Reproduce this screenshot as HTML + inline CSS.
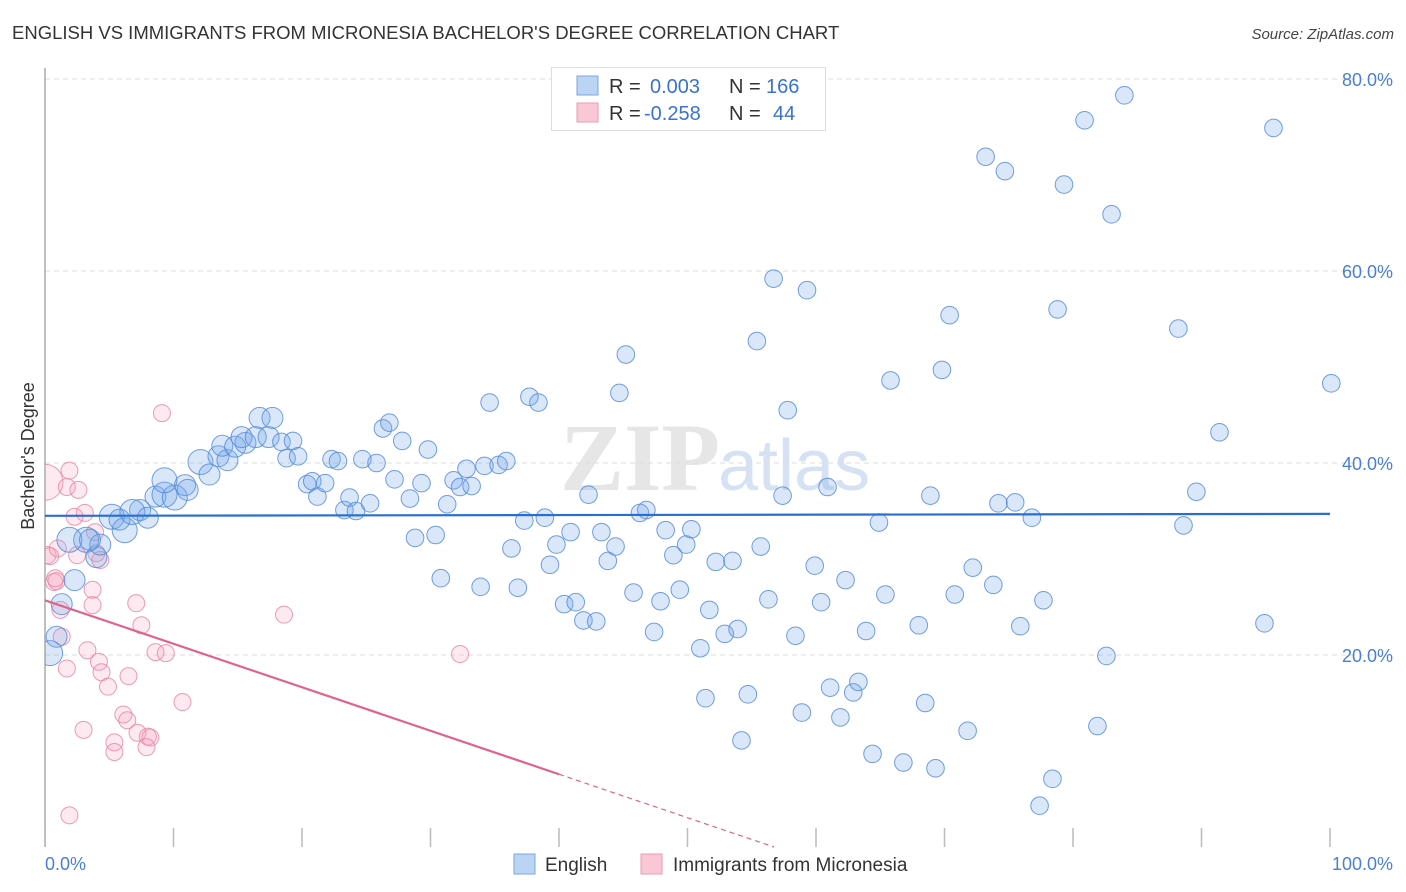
<!DOCTYPE html>
<html><head><meta charset="utf-8"><style>
body{margin:0;background:#fff;width:1406px;height:892px;overflow:hidden;font-family:"Liberation Sans",sans-serif}
svg{display:block}
</style></head><body>
<svg id="chart" width="1406" height="892">
<defs><clipPath id="plotClip"><rect x="45" y="60" width="1361" height="790"/></clipPath></defs>
<text x="12" y="39" font-size="18.5" fill="#333">ENGLISH VS IMMIGRANTS FROM MICRONESIA BACHELOR'S DEGREE CORRELATION CHART</text>
<text x="1394" y="39" font-size="15" fill="#444" font-style="italic" text-anchor="end">Source: ZipAtlas.com</text>
<text x="720" y="490" font-size="96" fill="#e6e6e6" text-anchor="end" font-family="Liberation Serif,serif" font-weight="bold">ZIP</text>
<text x="718" y="490" font-size="72" fill="#d6e2f3">atlas</text>
<g id="grid"></g>
<g id="axes"></g>
<g id="pinkPts" clip-path="url(#plotClip)"></g>
<g id="bluePts" clip-path="url(#plotClip)"></g>
<g id="lines"></g>
<text transform="translate(34,456) rotate(-90)" font-size="18" fill="#333" text-anchor="middle">Bachelor's Degree</text>
<text x="45" y="870" font-size="18" fill="#4a7fd4">0.0%</text>
<text x="1393" y="870" font-size="18" fill="#4a7fd4" text-anchor="end">100.0%</text>
<g>
<rect x="551.5" y="67.5" width="274" height="63" fill="#fff" stroke="#ddd"/>
<rect x="577" y="76" width="21" height="19" fill="#bcd4f4" stroke="#7aa6e3"/>
<rect x="577" y="103" width="21" height="19" fill="#fac7d6" stroke="#ee9ab3"/>
<text x="609" y="93" font-size="20" fill="#333">R = <tspan fill="#3a72cf" x="650">0.003</tspan><tspan fill="#333" x="729">N = </tspan><tspan fill="#3a72cf" x="766">166</tspan></text>
<text x="609" y="120" font-size="20" fill="#333">R = <tspan fill="#3a72cf" x="644">-0.258</tspan><tspan fill="#333" x="729">N = </tspan><tspan fill="#3a72cf" x="773">44</tspan></text>
</g>
<g>
<rect x="514" y="854" width="21" height="20" fill="#bcd4f4" stroke="#7aa6e3"/>
<text x="545" y="871" font-size="19" fill="#333">English</text>
<rect x="641" y="854" width="21" height="20" fill="#fac7d6" stroke="#ee9ab3"/>
<text x="673" y="871" font-size="19" fill="#333">Immigrants from Micronesia</text>
</g>
</svg>
<script>
const yTicks=[20,40,60,80];
const yTickLabels=["20.0%","40.0%","60.0%","80.0%"];
const xTicks=[0,10,20,30,40,50,60,70,80,90,100];
const blueX=[0.4,0.9,1.3,2.3,4.0,3.2,4.3,1.9,3.5,5.2,6.2,5.8,7.4,6.8,8.0,8.6,9.3,10.1,10.9,9.3,11.1,12.1,12.8,13.5,14.2,13.8,14.8,15.6,15.3,16.4,17.4,16.7,17.7,18.4,19.3,18.8,19.7,20.4,20.8,21.2,21.8,22.3,22.8,23.3,23.7,24.2,24.7,25.3,25.8,26.3,26.8,27.2,27.8,28.4,28.8,29.3,29.8,30.4,30.8,31.3,31.8,32.3,32.8,33.2,33.9,34.2,34.6,35.3,35.9,36.3,36.8,37.3,37.7,38.4,38.9,39.3,39.8,40.4,40.9,41.3,41.9,42.3,42.9,43.3,43.8,44.4,44.7,45.2,45.8,46.3,46.8,47.4,47.9,48.3,48.9,49.4,49.9,50.3,51.0,51.4,51.7,52.2,52.9,53.5,53.9,54.2,54.7,55.4,55.7,56.3,56.7,57.4,57.8,58.4,58.9,59.3,59.9,60.4,60.9,61.1,61.9,62.3,62.9,63.3,63.9,64.4,64.9,65.4,65.8,66.8,68.0,68.5,68.9,69.3,69.8,70.4,70.8,71.8,72.2,73.2,73.8,74.2,74.7,75.5,75.9,76.8,77.4,77.7,78.4,78.8,79.3,80.9,81.9,82.6,83.0,84.0,88.2,88.6,89.6,91.4,94.9,95.6,100.1];
const blueY=[20.2,21.9,25.3,27.8,30.2,32.0,31.5,32.0,32.0,34.4,33.0,34.1,35.1,34.9,34.3,36.5,36.7,36.4,37.7,38.2,37.2,40.1,38.8,40.7,40.3,41.8,41.7,42.1,42.7,42.7,42.7,44.7,44.7,42.2,42.3,40.5,40.7,37.8,38.1,36.5,37.9,40.4,40.2,35.1,36.4,35.0,40.4,35.8,40.0,43.6,44.2,38.3,42.3,36.3,32.2,37.9,41.4,32.5,28.0,35.7,38.2,37.5,39.4,37.6,27.1,39.7,46.3,39.8,40.2,31.1,27.0,34.0,46.9,46.3,34.3,29.4,31.5,25.3,32.8,25.5,23.6,36.7,23.5,32.8,29.8,31.3,47.3,51.3,26.5,34.8,35.1,22.4,25.6,33.0,30.4,26.8,31.5,33.1,20.7,15.5,24.7,29.7,22.2,29.8,22.7,11.1,15.9,52.7,31.3,25.8,59.2,36.6,45.5,22.0,14.0,58.0,29.3,25.5,37.5,16.6,13.5,27.8,16.1,17.2,22.5,9.7,33.8,26.3,48.6,8.8,23.1,15.0,36.6,8.2,49.7,55.4,26.3,12.1,29.1,71.9,27.3,35.8,70.4,35.9,23.0,34.3,4.3,25.7,7.1,56.0,69.0,75.7,12.6,19.9,65.9,78.3,54.0,33.5,37.0,43.2,23.3,74.9,48.3];
const blueWeight=[5,4,4,4,4,5,4,5,4,5,5,4,4,5,4,4,5,5,4,5,4,5,4,4,4,4,4,4,4,4,4,4,4];
const pinkX=[0,1.9,1.7,2.6,0.2,0.4,0.7,0.9,1.2,2.3,3.1,3.9,4.0,0.8,3.7,3.7,2.5,1.3,1.7,3.3,4.2,4.4,4.9,6.5,7.1,7.5,8.6,9.4,3.0,5.4,5.4,6.1,6.4,7.2,8.0,8.2,7.9,10.7,9.1,1.9,18.6,32.3,1.0,4.3];
const pinkY=[38.0,39.2,37.5,37.2,30.4,30.3,27.6,27.7,24.7,34.4,34.8,32.8,30.6,28.0,26.8,25.2,30.4,21.9,18.6,20.5,19.3,18.2,16.7,17.8,25.4,23.1,20.3,20.2,12.2,10.9,9.9,13.8,13.2,11.9,11.5,11.4,10.4,15.1,45.2,3.3,24.2,20.1,31.1,29.9];
const blueTrend=[34.5,34.7];
const pinkTrendStart=25.7, pinkTrendSlope=-0.453, pinkSolidEnd=40;

const NS="http://www.w3.org/2000/svg";
const X=v=>45+v*12.85, Y=v=>847-v*9.6;
function mk(tag,attrs,parent){const e=document.createElementNS(NS,tag);for(const k in attrs)e.setAttribute(k,attrs[k]);parent.appendChild(e);return e;}
const grid=document.getElementById('grid'),axes=document.getElementById('axes');
yTicks.forEach((t,i)=>{
  const l=mk('line',{x1:45,x2:1393,y1:Y(t),y2:Y(t),stroke:'#ddd','stroke-dasharray':'5,4'},grid);
  
  
  const tx=mk('text',{x:1393,y:Y(t)+7,'font-size':18,fill:'#4a7fd4','text-anchor':'end'},grid);
  tx.textContent=yTickLabels[i];
  
  
});
const ax=mk('line',{x1:45,x2:45,y1:68,y2:847,stroke:'#aaa','stroke-width':1.5},axes);


xTicks.forEach(t=>{
  const l=mk('line',{x1:X(t),x2:X(t),y1:828,y2:847,stroke:'#bbb','stroke-width':1.5},axes);
  
  
});
const pg=document.getElementById('pinkPts');
pinkX.forEach((x,i)=>{
  const c=mk('circle',{cx:X(x),cy:Y(pinkY[i]),r:i===0?18:8.5,fill:'rgba(244,160,188,0.22)',stroke:'rgba(232,130,165,0.8)','stroke-width':1},pg);
  
  
});
const bg=document.getElementById('bluePts');
blueX.forEach((x,i)=>{
  const w=blueWeight[i]||3;
  const c=mk('circle',{cx:X(x),cy:Y(blueY[i]),r:w===5?12.5:w===4?10.5:8.8,fill:'rgba(120,168,232,0.28)',stroke:'rgba(80,135,215,0.8)','stroke-width':1},bg);
  
  
});
const lg=document.getElementById('lines');
const bl=mk('line',{x1:X(0),y1:Y(blueTrend[0]),x2:X(100),y2:Y(blueTrend[1]),stroke:'#2a6fcf','stroke-width':2.2},lg);


const pEndY=pinkTrendStart+pinkTrendSlope*pinkSolidEnd;
const zeroX=-pinkTrendStart/pinkTrendSlope;
const pl=mk('line',{x1:X(0),y1:Y(pinkTrendStart),x2:X(pinkSolidEnd),y2:Y(pEndY),stroke:'#e0628e','stroke-width':2.2},lg);


const pd=mk('line',{x1:X(pinkSolidEnd),y1:Y(pEndY),x2:X(zeroX),y2:Y(0),stroke:'#e0628e','stroke-width':1.2,'stroke-dasharray':'5,4'},lg);


</script>
</body></html>
